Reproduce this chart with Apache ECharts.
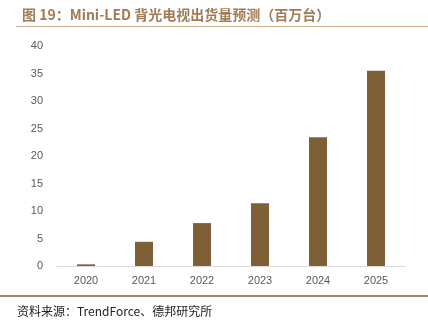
<!DOCTYPE html>
<html>
<head>
<meta charset="utf-8">
<script src="https://cdn.jsdelivr.net/npm/echarts@6/dist/echarts.min.js"></script>
<style>
  html, body { margin: 0; padding: 0; background: #fff; }
  #chart { width: 428px; height: 326px; }
</style>
</head>
<body>
<div id="chart"></div>
<script>
// Mini-LED backlit TV shipments forecast, millions of units
const years = ['2020', '2021', '2022', '2023', '2024', '2025'];
const shipments = [0.3, 4.4, 7.8, 11.4, 23.4, 35.5];
const yTicks = { min: 0, max: 40, interval: 5 };

const titleText = '图 19：Mini-LED 背光电视出货量预测（百万台）';
const sourceText = '资料来源：TrendForce、德邦研究所';

const chart = echarts.init(document.getElementById('chart'), null, { renderer: 'canvas' });

chart.setOption({
  backgroundColor: '#ffffff',
  animation: false,
  title: {
    text: titleText,
    left: 17,
    top: 3,
    textStyle: {
      fontFamily: '"Noto Sans CJK SC", "Noto Sans", sans-serif',
      fontSize: 14,
      fontWeight: 'bold',
      color: '#A07B55'
    }
  },
  grid: { left: 57, right: 23, top: 46, bottom: 60 },
  xAxis: {
    type: 'category',
    data: years,
    axisLine: { show: true, lineStyle: { color: '#D9D9D9', width: 1 } },
    axisTick: { show: false },
    axisLabel: {
      color: '#595959',
      fontSize: 11,
      fontFamily: 'Arial, "Liberation Sans", sans-serif',
      margin: 9
    }
  },
  yAxis: {
    type: 'value',
    min: yTicks.min,
    max: yTicks.max,
    interval: yTicks.interval,
    axisLine: { show: false },
    axisTick: { show: false },
    splitLine: { show: false },
    axisLabel: {
      color: '#595959',
      fontSize: 11,
      fontFamily: 'Arial, "Liberation Sans", sans-serif',
      margin: 14
    }
  },
  series: [{
    type: 'bar',
    data: shipments,
    barWidth: 18,
    itemStyle: { color: '#7F5F35' }
  }],
  graphic: [
    {
      type: 'line',
      shape: { x1: 16, y1: 26.5, x2: 428, y2: 26.5 },
      style: { stroke: '#C9AD8D', lineWidth: 1 }
    },
    {
      type: 'line',
      shape: { x1: 0, y1: 296, x2: 428, y2: 296 },
      style: { stroke: '#A88463', lineWidth: 2 }
    },
    {
      type: 'text',
      left: 17,
      top: 305,
      style: {
        text: sourceText,
        fill: '#222222',
        fontSize: 12,
        fontFamily: '"Noto Sans CJK SC", "Liberation Sans", sans-serif'
      }
    }
  ]
});
</script>
</body>
</html>
